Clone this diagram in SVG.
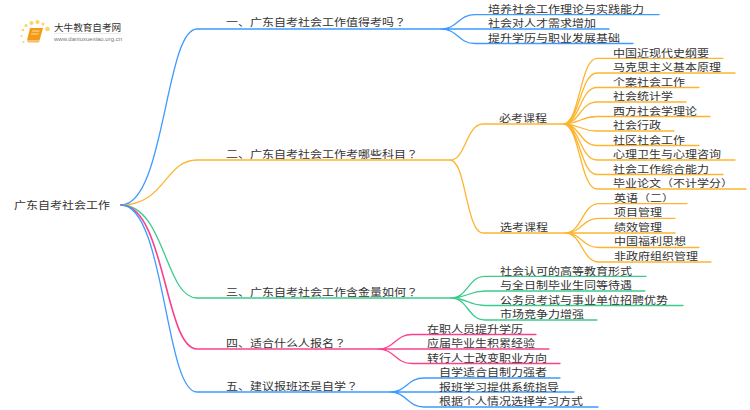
<svg xmlns="http://www.w3.org/2000/svg" width="750" height="410" viewBox="0 0 750 410">
<style>
text{font-family:"Noto Sans CJK SC","Liberation Sans",sans-serif;font-size:12px;fill:#333}
.t{font-family:"Noto Sans CJK TC","Liberation Sans",sans-serif}
.c{fill:none;stroke-width:1.3;stroke-linecap:round}
.b{stroke:#3d9bff}.o{stroke:#fdb530}.g{stroke:#3ccb8b}.p{stroke:#f9418c}
</style>
<rect width="750" height="410" fill="#fff"/>
<g id="connectors">
<path class="c b" d="M121 205C165 205 165 29 197 29H441"/>
<path class="c o" d="M121 205C165 205 165 160 197 160H450"/>
<path class="c g" d="M121 205C165 205 165 298 197 298H451"/>
<path class="c p" style="stroke-width:1.600" d="M121 205C165 205 165 349 197 349H378"/>
<path class="c b" d="M121 205C165 205 165 392 197 392H390"/>
<path class="c b" d="M441 29C458 29 458 14.7 475 14.7H659M441 29H609M441 29C458 29 458 43.5 475 43.5H633"/>
<path class="c o" d="M450 160C466 160 466 124 483 124H563M450 160C466 160 466 233 483 233H565"/>
<path class="c o" d="M563 124C580 124 580 58.3 597 58.3H723M563 124C580 124 580 73 597 73H735M563 124C580 124 580 87.5 597 87.5H699M563 124C580 124 580 102 597 102H686M563 124C580 124 580 116.5 597 116.5H710M563 124C580 124 580 131 597 131H674M563 124C580 124 580 145.5 597 145.5H699M563 124C580 124 580 160 597 160H735M563 124C580 124 580 174.5 597 174.5H723M563 124C580 124 580 189 597 189H746"/>
<path class="c o" d="M565 233C582 233 582 203.7 599 203.7H687M565 233C582 233 582 218.3 599 218.3H675M565 233H675M565 233C582 233 582 247.5 599 247.5H699M565 233C582 233 582 262 599 262H711"/>
<path class="c g" d="M451 298C468 298 468 276.3 485 276.3H646M451 298C468 298 468 291 485 291H645M451 298C468 298 468 305.5 485 305.5H683M451 298C468 298 468 320 485 320H597"/>
<path class="c p" d="M378 349C395 349 395 334.5 412 334.5H536M378 349H549M378 349C395 349 395 363.5 412 363.5H560"/>
<path class="c b" d="M390 392C407 392 407 378 424 378H560M390 392H574M390 392C407 392 407 407 424 407H598"/>
</g>
<g id="logo">
<g fill="#fcd36a"><circle cx="47.500" cy="29" r="2.300"/><circle cx="43" cy="24" r="1.500"/><circle cx="37.500" cy="22" r="2"/><circle cx="31.500" cy="23" r="2"/><circle cx="26" cy="25.500" r="1.500"/><circle cx="23" cy="30" r="1.300"/><circle cx="21.500" cy="36" r="1.100"/><circle cx="23.500" cy="42" r="1"/></g>
<path d="M30 28H43L39.500 40.500H27Z" fill="#f59a14"/><path d="M27 40.500H39.500L39 42.500H28Z" fill="#f7bb6a"/><path d="M32 31H39.500M31 34H38.500" stroke="#fde3a8" stroke-width="1"/>
<text x="54" y="31" style="font-size:9.600px">大牛教育自考网</text>
<path d="M54 33.500H121" stroke="#ddd" stroke-width=".6"/>
<text x="54" y="40.500" style="font-size:6px;fill:#777;font-family:'Liberation Sans',sans-serif">www.daniuxuexiao.org.cn</text>
</g>
<g id="root"><text transform="translate(14 208.500) scale(1 .82)">广东自考社会工作</text></g>
<g id="n1"><text transform="translate(226 25.500) scale(1 .82)">一、广东自考社会工作值得考吗<tspan class="t">？</tspan></text></g>
<g id="n1a"><text transform="translate(488 12.500) scale(1 .82)">培养社会工作理论与实践能力</text></g>
<g id="n1b"><text transform="translate(488 27) scale(1 .82)">社会对人才需求增加</text></g>
<g id="n1c"><text transform="translate(488 41.500) scale(1 .82)">提升学历与职业发展基础</text></g>
<g id="n2"><text transform="translate(226 157.500) scale(1 .82)">二、广东自考社会工作考哪些科目<tspan class="t">？</tspan></text></g>
<g id="n2a"><text transform="translate(499 121.500) scale(1 .82)">必考课程</text></g>
<g id="n2a1"><text transform="translate(613 56.500) scale(1 .82)">中国近现代史纲要</text></g>
<g id="n2a2"><text transform="translate(613 71) scale(1 .82)">马克思主义基本原理</text></g>
<g id="n2a3"><text transform="translate(613 85.500) scale(1 .82)">个案社会工作</text></g>
<g id="n2a4"><text transform="translate(613 100) scale(1 .82)">社会统计学</text></g>
<g id="n2a5"><text transform="translate(613 114.500) scale(1 .82)">西方社会学理论</text></g>
<g id="n2a6"><text transform="translate(613 129) scale(1 .82)">社会行政</text></g>
<g id="n2a7"><text transform="translate(613 143.500) scale(1 .82)">社区社会工作</text></g>
<g id="n2a8"><text transform="translate(613 158) scale(1 .82)">心理卫生与心理咨询</text></g>
<g id="n2a9"><text transform="translate(613 172.500) scale(1 .82)">社会工作综合能力</text></g>
<g id="n2a10"><text transform="translate(613 187) scale(1 .82)">毕业论文（不计学分<tspan class="t">）</tspan></text></g>
<g id="n2b"><text transform="translate(500 230.500) scale(1 .82)">选考课程</text></g>
<g id="n2b1"><text transform="translate(614 201.500) scale(1 .82)">英语（二<tspan class="t">）</tspan></text></g>
<g id="n2b2"><text transform="translate(614 216) scale(1 .82)">项目管理</text></g>
<g id="n2b3"><text transform="translate(614 230.500) scale(1 .82)">绩效管理</text></g>
<g id="n2b4"><text transform="translate(614 245) scale(1 .82)">中国福利思想</text></g>
<g id="n2b5"><text transform="translate(614 259.500) scale(1 .82)">非政府组织管理</text></g>
<g id="n3"><text transform="translate(226 295.500) scale(1 .82)">三、广东自考社会工作含金量如何<tspan class="t">？</tspan></text></g>
<g id="n3a"><text transform="translate(500 274.500) scale(1 .82)">社会认可的高等教育形式</text></g>
<g id="n3b"><text transform="translate(500 289) scale(1 .82)">与全日制毕业生同等待遇</text></g>
<g id="n3c"><text transform="translate(500 303.500) scale(1 .82)">公务员考试与事业单位招聘优势</text></g>
<g id="n3d"><text transform="translate(500 318) scale(1 .82)">市场竞争力增强</text></g>
<g id="n4"><text transform="translate(226 346.500) scale(1 .82)">四、适合什么人报名<tspan class="t">？</tspan></text></g>
<g id="n4a"><text transform="translate(427 332.500) scale(1 .82)">在职人员提升学历</text></g>
<g id="n4b"><text transform="translate(427 347) scale(1 .82)">应届毕业生积累经验</text></g>
<g id="n4c"><text transform="translate(427 361.500) scale(1 .82)">转行人士改变职业方向</text></g>
<g id="n5"><text transform="translate(226 389.500) scale(1 .82)">五、建议报班还是自学<tspan class="t">？</tspan></text></g>
<g id="n5a"><text transform="translate(439 376) scale(1 .82)">自学适合自制力强者</text></g>
<g id="n5b"><text transform="translate(439 390.500) scale(1 .82)">报班学习提供系统指导</text></g>
<g id="n5c"><text transform="translate(439 405) scale(1 .82)">根据个人情况选择学习方式</text></g>
</svg>
